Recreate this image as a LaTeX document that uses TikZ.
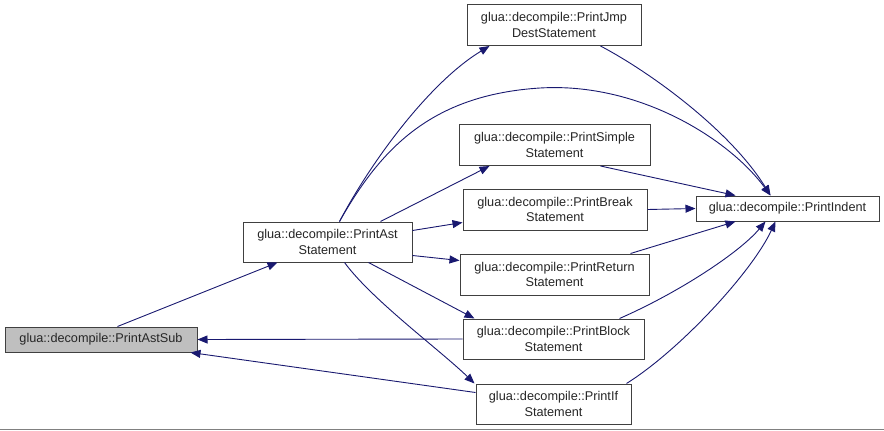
\documentclass[tikz,border=0pt]{standalone}
\usepackage{fontspec}
\setmainfont{Liberation Sans}
\usetikzlibrary{arrows.meta,calc}
\definecolor{edgeblue}{HTML}{191970}
\definecolor{boxgray}{HTML}{BFBFBF}
\begin{document}
\begin{tikzpicture}[x=1pt,y=-1pt,
  fn/.style={draw=black!75, line width=1pt, fill=white, inner sep=0pt, align=center,
    font=\fontsize{12.7}{15.5}\selectfont, text=black!85},
  link/.style={draw=edgeblue, line width=0.9pt, -{Triangle[length=10pt,width=8pt]}}]
\useasboundingbox (0,0) rectangle (884,431);
\fill[white] (0,0) rectangle (884,431);
\draw[black!50, line width=1pt] (0,429) -- (884,429);

\node[fn, fill=boxgray, minimum width=192pt, minimum height=25pt] (astsub) at (101,339.5) {glua::decompile::PrintAstSub};
\node[fn, minimum width=169pt, minimum height=40pt] (ast) at (327.5,242) {glua::decompile::PrintAst\\Statement};
\node[fn, minimum width=174pt, minimum height=41pt] (jmp) at (554,25) {glua::decompile::PrintJmp\\DestStatement};
\node[fn, minimum width=191pt, minimum height=41pt] (simple) at (554.5,145) {glua::decompile::PrintSimple\\Statement};
\node[fn, minimum width=184pt, minimum height=41pt] (brk) at (555,209.5) {glua::decompile::PrintBreak\\Statement};
\node[fn, minimum width=189pt, minimum height=41pt] (ret) at (554.5,274.5) {glua::decompile::PrintReturn\\Statement};
\node[fn, minimum width=181pt, minimum height=40pt] (blk) at (553.5,339) {glua::decompile::PrintBlock\\Statement};
\node[fn, minimum width=155pt, minimum height=40pt] (iff) at (553.5,404) {glua::decompile::PrintIf\\Statement};
\node[fn, minimum width=183pt, minimum height=25pt] (indent) at (787.5,208.5) {glua::decompile::PrintIndent};

% edges
\draw[link] ([xshift=113pt]astsub.north west) -- ([xshift=35pt]ast.south west);
\draw[link] ([xshift=97pt]ast.north west) .. controls (372,160) and (430,82) .. ([xshift=23pt]jmp.south west);
\draw[link] ([xshift=97pt]ast.north west) .. controls (380,150) and (430,95) .. (540,88)
   .. controls (640,82) and (730,140) .. ([xshift=-17pt]indent.north);
\draw[link] ([xshift=-32pt]ast.north east) -- ([xshift=31pt]simple.south west);
\draw[link] ([yshift=-9pt]ast.north east) -- ([yshift=-34pt]brk.north west);
\draw[link] ([yshift=7pt]ast.south east) -- ([yshift=-7pt]ret.north west);
\draw[link] ([xshift=-44pt]ast.south east) -- ([xshift=12pt]blk.north west);
\draw[link] ([xshift=17pt]ast.south) .. controls (372,300) and (440,350) .. ([xshift=-1pt]iff.north west);
\draw[link] (blk.west) -- (astsub.east);
\draw[link] ([yshift=-9pt]iff.north west) -- ([xshift=-7pt]astsub.south east);
\draw[link] ([xshift=-41pt]jmp.south east) .. controls (650,72) and (730,130) .. ([xshift=-17pt]indent.north);
\draw[link] ([xshift=-50pt]simple.south east) -- ([xshift=-52pt]indent.north);
\draw[link] (brk.east) -- (indent.west);
\draw[link] ([xshift=-19pt]ret.north east) -- ([xshift=-52pt]indent.south);
\draw[link] ([xshift=-25pt]blk.north east) .. controls (680,292) and (740,252) .. ([xshift=-22pt]indent.south);
\draw[link] ([xshift=-5pt]iff.north east) .. controls (680,350) and (752,272) .. ([xshift=-12pt]indent.south);
\end{tikzpicture}
\end{document}
